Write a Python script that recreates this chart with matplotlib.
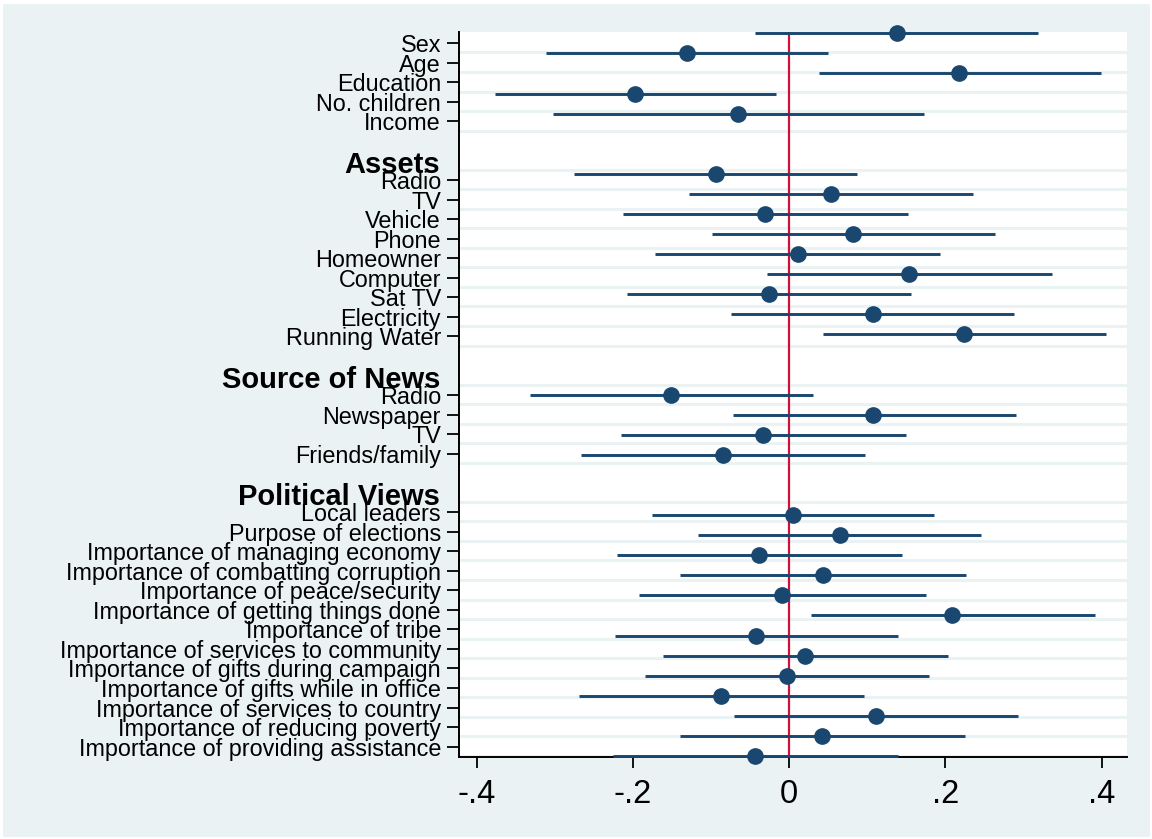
import matplotlib
matplotlib.use("Agg")
import matplotlib.pyplot as plt
from matplotlib.patches import Rectangle

# ---------------- data ----------------
demo_labels = ["Sex", "Age", "Education", "No. children", "Income"]
demo_coef = [0.138, -0.131, 0.218, -0.197, -0.065]
demo_lo = [-0.043, -0.311, 0.038, -0.377, -0.302]
demo_hi = [0.318, 0.050, 0.399, -0.017, 0.173]

assets_labels = ["Radio", "TV", "Vehicle", "Phone", "Homeowner", "Computer",
                 "Sat TV", "Electricity", "Running Water"]
assets_coef = [-0.093, 0.054, -0.031, 0.082, 0.012, 0.154, -0.026, 0.107, 0.224]
assets_lo = [-0.275, -0.128, -0.213, -0.099, -0.171, -0.028, -0.208, -0.074, 0.044]
assets_hi = [0.087, 0.236, 0.152, 0.264, 0.193, 0.336, 0.156, 0.288, 0.406]

news_labels = ["Radio", "Newspaper", "TV", "Friends/family"]
news_coef = [-0.151, 0.108, -0.033, -0.085]
news_lo = [-0.332, -0.072, -0.215, -0.266]
news_hi = [0.030, 0.290, 0.149, 0.097]

views_labels = ["Local leaders", "Purpose of elections",
                "Importance of managing economy",
                "Importance of combatting corruption",
                "Importance of peace/security",
                "Importance of getting things done",
                "Importance of tribe",
                "Importance of services to community",
                "Importance of gifts during campaign",
                "Importance of gifts while in office",
                "Importance of services to country",
                "Importance of reducing poverty",
                "Importance of providing assistance"]
views_coef = [0.005, 0.065, -0.038, 0.044, -0.009, 0.209, -0.042, 0.020,
              -0.003, -0.087, 0.111, 0.042, -0.044]
views_lo = [-0.176, -0.116, -0.220, -0.139, -0.192, 0.028, -0.223, -0.162,
            -0.184, -0.269, -0.071, -0.140, -0.226]
views_hi = [0.186, 0.246, 0.144, 0.227, 0.175, 0.391, 0.140, 0.203,
            0.179, 0.096, 0.293, 0.225, 0.139]

group_headers = ["Assets", "Source of News", "Political Views"]
xticks = [-0.4, -0.2, 0, 0.2, 0.4]
xticklabels = ["-.4", "-.2", "0", ".2", ".4"]

# ---------------- build rows ----------------
groups = [(None, demo_labels, demo_coef, demo_lo, demo_hi),
          (group_headers[0], assets_labels, assets_coef, assets_lo, assets_hi),
          (group_headers[1], news_labels, news_coef, news_lo, news_hi),
          (group_headers[2], views_labels, views_coef, views_lo, views_hi)]

tick_pos, tick_lab = [], []
head_pos, head_lab = [], []
pts_pos, pts_coef, pts_lo, pts_hi = [], [], [], []
grid_rows = []
row = 0
for header, labs, coefs, los, his in groups:
    if header is not None:
        row += 1  # blank row
        head_pos.append(row)
        head_lab.append(header)
        grid_rows.append(row)
        row += 1
    for lab, c, lo, hi in zip(labs, coefs, los, his):
        tick_pos.append(row)
        tick_lab.append(lab)
        pts_pos.append(row)
        pts_coef.append(c)
        pts_lo.append(lo)
        pts_hi.append(hi)
        grid_rows.append(row)
        row += 1
n_last = row - 1

# ---------------- figure ----------------
W, H = 1152, 839
fig = plt.figure(figsize=(W / 100, H / 100), dpi=100, facecolor="white")
bg = "#EAF2F3"
fig.patches.append(Rectangle((3 / W, 2 / H), 1147 / W, 833 / H,
                             transform=fig.transFigure, facecolor=bg,
                             edgecolor="none", zorder=-10))

left, right, top, bottom = 459, 1127, 32.3, 757
pos = [left / W, 1 - bottom / H, (right - left) / W, (bottom - top) / H]
ax = fig.add_axes(pos)
ax.set_facecolor("white")

FONT = ["Liberation Sans Narrow", "Liberation Sans"]
navy = "#1A476F"
red = "#D0103A"

# label axis (ticks, labels, grid)
ax.set_xlim(-0.4225, 0.4325)
ax.set_ylim(n_last + 0.53, -0.563)
for g in grid_rows:
    ax.axhline(g + 0.47, color=bg, lw=2.2, zorder=0)
ax.set_yticks(tick_pos)
ax.set_yticklabels(tick_lab, fontsize=16.8, family=FONT)
ax.tick_params(axis="y", length=8.5, width=1.3, pad=4.5, direction="out")
ax.set_xticks(xticks)
ax.set_xticklabels(xticklabels, fontsize=23.5, family=FONT)
ax.tick_params(axis="x", length=8, width=1.3, pad=8, direction="out")
for s in ["top", "right"]:
    ax.spines[s].set_visible(False)
for s in ["left", "bottom"]:
    ax.spines[s].set_linewidth(1.4)
    ax.spines[s].set_zorder(1)

for p, h in zip(head_pos, head_lab):
    ax.annotate(h, xy=(0, p), xycoords=("axes fraction", "data"),
                xytext=(-13.5, -3), textcoords="offset points",
                ha="right", va="center", fontsize=21, fontweight="bold",
                family=FONT, annotation_clip=False)

# point axis (coefficients)
ax2 = ax.twinx()
ax2.set_ylim(n_last + 0.05, -0.05)
ax2.set_yticks([])
for s in ax2.spines.values():
    s.set_visible(False)
ax2.axvline(0, color=red, lw=1.6, zorder=1)
ax2.hlines(pts_pos, pts_lo, pts_hi, color=navy, lw=2.1, zorder=2,
           clip_on=False)
ax2.plot(pts_coef, pts_pos, "o", color=navy, ms=11, zorder=3,
         clip_on=False, linestyle="none")

fig.savefig("out.png", dpi=100, facecolor="white")
